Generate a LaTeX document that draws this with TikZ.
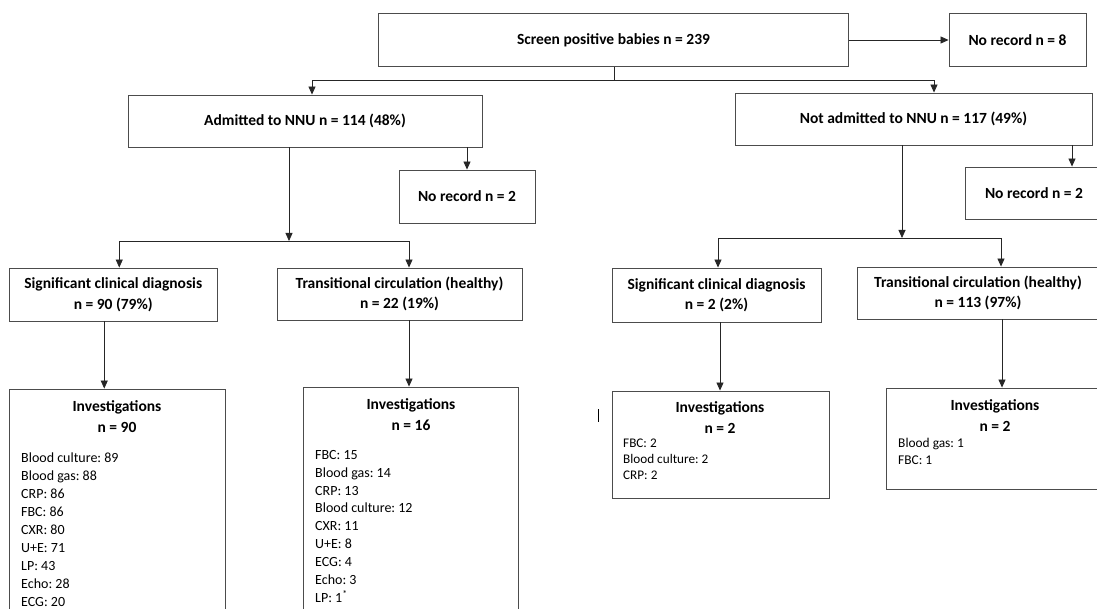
\documentclass[tikz,border=0pt]{standalone}
\usepackage{fontspec}
\setmainfont{Carlito}
\frenchspacing
\usetikzlibrary{arrows.meta}

\begin{document}
\begin{tikzpicture}[x=1pt,y=-1pt]
    \tikzset{box/.style = {shape=rectangle,draw=black!70,line width=0.9pt,inner sep=0pt,align=center,font=\bfseries\fontsize{15.5}{20.5}\selectfont}}
    \tikzset{flow/.style = {draw=black!85,line width=0.8pt,-{Triangle[length=8pt,width=7pt]}}}
    \tikzset{head/.style = {align=center,inner sep=0pt,anchor=north,font=\bfseries\fontsize{15.5}{21}\selectfont}}
    \tikzset{items/.style = {align=left,inner sep=0pt,anchor=north west,font=\fontsize{14}{17.9}\selectfont}}
    \fill[white] (0,0) rectangle (1097,609);
    \useasboundingbox (0,0) rectangle (1097,609);
    % first level
    \node[box,minimum width=470pt,minimum height=53pt] (screen) at (613.5,40) {Screen positive babies n = 239};
    \node[box,minimum width=137pt,minimum height=53pt] (norec1) at (1017.5,40) {No record n = 8};
    % admitted or not
    \node[box,minimum width=354pt,minimum height=52pt] (adm) at (305,121) {Admitted to NNU n = 114 (48\%)};
    \node[box,minimum width=357pt,minimum height=52pt] (notadm) at (913.5,119) {Not admitted to NNU n = 117 (49\%)};
    \node[box,minimum width=136pt,minimum height=53pt] (norec2) at (467,196.5) {No record n = 2};
    \node[box,minimum width=138pt,minimum height=52pt] (norec3) at (1034,193) {No record n = 2};
    % diagnosis
    \node[box,minimum width=207.5pt,minimum height=53pt] (sig1) at (113.25,294.5) {Significant clinical diagnosis\\n = 90 (79\%)};
    \node[box,minimum width=245pt,minimum height=52pt] (trans1) at (399.5,294) {Transitional circulation (healthy)\\n = 22 (19\%)};
    \node[box,minimum width=209pt,minimum height=54pt] (sig2) at (716.5,295) {Significant clinical diagnosis\\n = 2 (2\%)};
    \node[box,minimum width=242pt,minimum height=52pt] (trans2) at (978,293) {Transitional circulation (healthy)\\n = 113 (97\%)};
    % investigations
    \node[box,minimum width=215.5pt,minimum height=251pt] (inv1) at (117.25,514.5) {};
    \node[box,minimum width=215pt,minimum height=253pt] (inv2) at (410.5,513.5) {};
    \node[box,minimum width=217pt,minimum height=107pt] (inv3) at (720.5,444.5) {};
    \node[box,minimum width=218pt,minimum height=101pt] (inv4) at (995,438.5) {};
    \node[head] (inv1h) at (117,400) {Investigations\\n = 90};
    \node[head] (inv2h) at (411,398) {Investigations\\n = 16};
    \node[head] (inv3h) at (720,401) {Investigations\\n = 2};
    \node[head] (inv4h) at (995,399) {Investigations\\n = 2};
    \node[items] (inv1l) at (21,453) {Blood culture: 89\\Blood gas: 88\\CRP: 86\\FBC: 86\\CXR: 80\\U+E: 71\\LP: 43\\Echo: 28\\ECG: 20};
    \node[items] (inv2l) at (315,450) {FBC: 15\\Blood gas: 14\\CRP: 13\\Blood culture: 12\\CXR: 11\\U+E: 8\\ECG: 4\\Echo: 3\\LP: 1\textsuperscript{*}};
    \node[items,font=\fontsize{13.2}{16}\selectfont] (inv3l) at (623,439) {FBC: 2\\Blood culture: 2\\CRP: 2};
    \node[items,font=\fontsize{13.4}{16.5}\selectfont] (inv4l) at (898,438) {Blood gas: 1\\FBC: 1};
    % connectors
    \coordinate (s0) at (614,80);
    \coordinate (s1) at (289,241);
    \coordinate (s2) at (902,238);
    \draw[flow] (screen.east) -- (norec1.west);
    \draw[draw=black!85,line width=0.8pt] (screen.south -| s0) -- (s0);
    \draw[flow] (s0) -| ([xshift=7pt]adm.north);
    \draw[flow] (s0) -| ([xshift=20.5pt]notadm.north);
    \draw[flow] (adm.south -| norec2.north) -- (norec2.north);
    \draw[flow] (adm.south -| s1) -- (s1);
    \draw[flow] (s1) -| ([xshift=6pt]sig1.north);
    \draw[flow] (s1) -| ([xshift=9.5pt]trans1.north);
    \draw[flow] ([xshift=38pt]norec3.north |- notadm.south) -- ([xshift=38pt]norec3.north);
    \draw[flow] (notadm.south -| s2) -- (s2);
    \draw[flow] (s2) -| ([xshift=1.5pt]sig2.north);
    \draw[flow] (s2) -| ([xshift=23pt]trans2.north);
    \draw[flow] ([xshift=-9pt]sig1.south) -- ([xshift=-9pt]sig1.south |- inv1.north);
    \draw[flow] ([xshift=9.5pt]trans1.south) -- ([xshift=9.5pt]trans1.south |- inv2.north);
    \draw[flow] ([xshift=3.5pt]sig2.south) -- ([xshift=3.5pt]sig2.south |- inv3.north);
    \draw[flow] ([xshift=24pt]trans2.south) -- ([xshift=24pt]trans2.south |- inv4.north);
    \draw[line width=0.7pt] (598,409) -- (598,422);
\end{tikzpicture}
\end{document}
